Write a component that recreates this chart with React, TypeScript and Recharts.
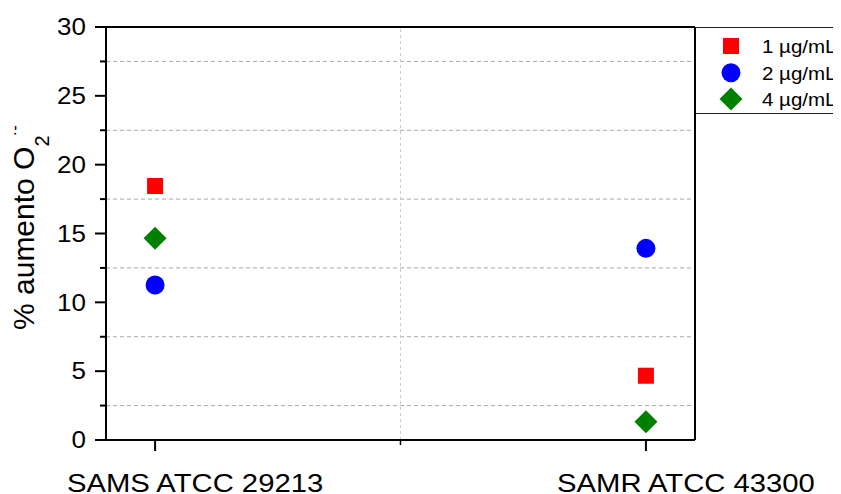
import React from 'react'
import { ScatterChart, Scatter, XAxis, YAxis, ReferenceLine } from 'recharts'

const strains = ['SAMS ATCC 29213', 'SAMR ATCC 43300']
const strainPos = [1, 2]
const dose1 = [18.45, 4.67] // 1 µg/mL
const dose2 = [11.26, 13.92] // 2 µg/mL
const dose4 = [14.65, 1.33] // 4 µg/mL
const doseLabels = ['1 µg/mL', '2 µg/mL', '4 µg/mL']
const yTicks = [0, 2.5, 5, 7.5, 10, 12.5, 15, 17.5, 20, 22.5, 25, 27.5, 30]
const xTicks = [1, 1.5, 2]
const gridY = [2.5, 7.5, 12.5, 17.5, 22.5, 27.5]

const RED = '#ff0000'
const BLUE = '#0000ff'
const GREEN = '#008000'
const FONT = '"Liberation Sans", Arial, sans-serif'

const toPoints = (vals: number[]) => strainPos.map((x, i) => ({ x, y: vals[i] }))

const Square = (p: any) => <rect x={p.cx - 8} y={p.cy - 8} width={16} height={16} fill={RED} />
const Dot = (p: any) => <circle cx={p.cx} cy={p.cy} r={9.5} fill={BLUE} />
const Diamond = (p: any) => (
  <polygon
    points={`${p.cx},${p.cy - 11.5} ${p.cx + 11.5},${p.cy} ${p.cx},${p.cy + 11.5} ${p.cx - 11.5},${p.cy}`}
    fill={GREEN}
  />
)

// tickSize 10, tickMargin 0 -> axis sits 10px above the tick's y
function XTick({ x, y, payload }: any) {
  const ay = y - 10
  const i = strainPos.indexOf(payload.value)
  if (i < 0) return <line x1={x} x2={x} y1={ay} y2={ay + 5} stroke="#000" strokeWidth={1.5} />
  return (
    <g>
      <line x1={x} x2={x} y1={ay} y2={ay + 11} stroke="#000" strokeWidth={2} />
      <text
        transform={`translate(${x + 40},${ay + 52}) scale(1.17,1)`}
        textAnchor="middle"
        fontSize={25}
        fontFamily={FONT}
        fill="#000"
      >
        {strains[i]}
      </text>
    </g>
  )
}

// tickSize 11 + tickMargin 9 -> axis is 20px right of the tick's x
function YTick({ x, y, payload }: any) {
  const ax = x + 20
  const major = payload.value % 5 === 0
  return (
    <g>
      <line x1={ax - (major ? 11 : 6)} x2={ax} y1={y} y2={y} stroke="#000" strokeWidth={2} />
      {major && (
        <text
          transform={`translate(${ax - 20},${y}) scale(1.13,1)`}
          textAnchor="end"
          dy="0.36em"
          fontSize={23}
          fontFamily={FONT}
          fill="#000"
        >
          {payload.value}
        </text>
      )}
    </g>
  )
}

const YTitle = () => (
  <text transform="translate(26,322) rotate(-90)" fontSize={30} fontFamily={FONT} fill="#000">
    % aumento O
    <tspan fontSize={20} dy={15}>2</tspan>
    <tspan fontSize={17} dy={-29} dx={-1}>·-</tspan>
  </text>
)

function LegendBox() {
  const icons = [
    <rect key="s" x={35 - 8} y={19 - 8} width={16} height={16} fill={RED} />,
    <circle key="c" cx={35} cy={45.7} r={9.5} fill={BLUE} />,
    <polygon key="d" points="35,60.5 46.5,72 35,83.5 23.5,72" fill={GREEN} />,
  ]
  const ys = [19, 45.7, 72]
  return (
    <svg
      width={145}
      height={88}
      style={{ position: 'absolute', left: 688, top: 19, overflow: 'visible' }}
    >
      <line x1={0} x2={145} y1={0.5} y2={0.5} stroke="#222" strokeWidth={1} />
      <line x1={0} x2={145} y1={86.5} y2={86.5} stroke="#222" strokeWidth={1} />
      {icons}
      {doseLabels.map((t, i) => (
        <text
          key={t}
          transform={`translate(66,${ys[i]}) scale(1.08,1)`}
          dy="0.36em"
          fontSize={19}
          fontFamily={FONT}
          fill="#000"
        >
          {t}
        </text>
      ))}
    </svg>
  )
}

export default function App() {
  return (
    <div style={{ position: 'relative', width: 833, height: 486, fontFamily: FONT }}>
      <ScatterChart width={833} height={486} margin={{ top: 19, right: 146, bottom: 0, left: 0 }}>
        <XAxis
          type="number"
          dataKey="x"
          domain={[0.9, 2.1]}
          ticks={xTicks}
          interval={0}
          height={54}
          tickSize={10}
          tickMargin={0}
          tickLine={false}
          axisLine={{ stroke: '#000', strokeWidth: 2 }}
          tick={<XTick />}
        />
        <YAxis
          type="number"
          dataKey="y"
          domain={[0, 30]}
          ticks={yTicks}
          interval={0}
          width={98}
          tickSize={11}
          tickMargin={9}
          tickLine={false}
          axisLine={{ stroke: '#000', strokeWidth: 2 }}
          tick={<YTick />}
          label={<YTitle />}
        />
        {gridY.map((v) => (
          <ReferenceLine key={v} y={v} stroke="#a8a8a8" strokeDasharray="4 3" />
        ))}
        <ReferenceLine x={1.5} stroke="#cccccc" strokeDasharray="3 3" />
        <ReferenceLine y={30} stroke="#000" strokeWidth={2} />
        <ReferenceLine x={2.1} stroke="#000" strokeWidth={2} />
        <Scatter name={doseLabels[0]} data={toPoints(dose1)} shape={Square} isAnimationActive={false} />
        <Scatter name={doseLabels[1]} data={toPoints(dose2)} shape={Dot} isAnimationActive={false} />
        <Scatter name={doseLabels[2]} data={toPoints(dose4)} shape={Diamond} isAnimationActive={false} />
      </ScatterChart>
      <LegendBox />
    </div>
  )
}
